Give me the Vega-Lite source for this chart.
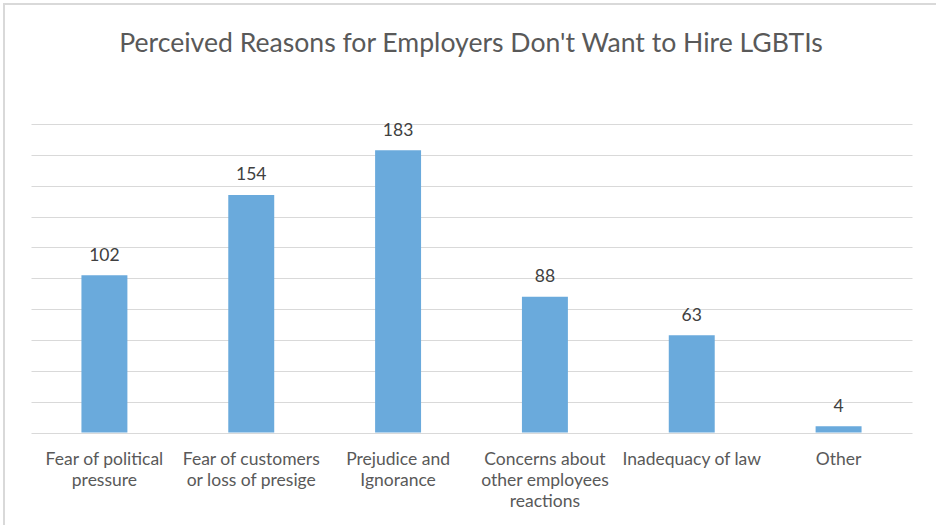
{
  "$schema": "https://vega.github.io/schema/vega-lite/v6.json",
  "autosize": {"type": "none"},
  "padding": {"left": 4, "top": 4, "right": 0, "bottom": 0},
  "width": 940,
  "height": 530,
  "background": "white",
  "title": {
    "text": "Perceived Reasons for Employers Don't Want to Hire LGBTIs",
    "orient": "top",
    "anchor": "middle",
    "offset": -74.5,
    "baseline": "alphabetic",
    "font": "Lato",
    "fontSize": 26.6,
    "fontWeight": "normal",
    "color": "#595959",
    "dx": -3
  },
  "data": {
    "values": [
      {"reason": "Fear of political|pressure", "count": 102},
      {"reason": "Fear of customers|or loss of presige", "count": 154},
      {"reason": "Prejudice and|Ignorance", "count": 183},
      {"reason": "Concerns about|other employees|reactions", "count": 88},
      {"reason": "Inadequacy of law", "count": 63},
      {"reason": "Other", "count": 4}
    ]
  },
  "encoding": {
    "x": {
      "field": "reason",
      "type": "nominal",
      "sort": null,
      "scale": {"range": [27, 908], "paddingInner": 0.687, "paddingOuter": 0.3435},
      "axis": {
        "title": null,
        "labelAngle": 0,
        "domain": false,
        "ticks": false,
        "grid": false,
        "labelPadding": 17.7,
        "labelFont": "Lato",
        "labelFontSize": 17.5,
        "labelColor": "#595959",
        "labelLineHeight": 21,
        "labelBaseline": "top",
        "labelExpr": "split(datum.label, '|')",
        "labelLimit": 0,
        "labelOverlap": false,
        "labelFlush": false,
        "offset": -101.5
      }
    },
    "y": {
      "field": "count",
      "type": "quantitative",
      "scale": {"domain": [0, 200], "range": [428.5, 120], "nice": false},
      "axis": {
        "title": null,
        "values": [0, 20, 40, 60, 80, 100, 120, 140, 160, 180, 200],
        "grid": true,
        "gridColor": "#d9d9d9",
        "gridWidth": 1,
        "labels": false,
        "ticks": false,
        "domain": false
      }
    }
  },
  "layer": [
    {"mark": {"type": "bar", "color": "#6aaadc"}},
    {
      "mark": {"type": "text", "dy": -14.5, "baseline": "alphabetic", "font": "Lato", "fontSize": 17.5, "color": "#404040"},
      "encoding": {"text": {"field": "count", "type": "quantitative"}}
    }
  ],
  "config": {"view": {"stroke": "#d9d9d9", "strokeWidth": 2}}
}
